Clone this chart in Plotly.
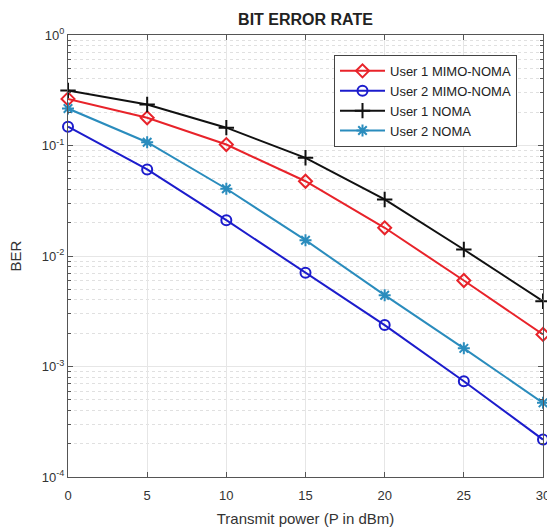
import plotly.graph_objects as go

power = [0, 5, 10, 15, 20, 25, 30]
user1_mimo = [0.264, 0.178, 0.102, 0.0475, 0.0180, 0.0060, 0.00195]
user2_mimo = [0.148, 0.0607, 0.0211, 0.00705, 0.00237, 0.000736, 0.000218]
user1_noma = [0.315, 0.235, 0.145, 0.0774, 0.0325, 0.01145, 0.0039]
user2_noma = [0.216, 0.107, 0.0406, 0.0139, 0.00442, 0.00146, 0.000469]

series = [
    ("User 1 MIMO-NOMA", user1_mimo, "#e8232a", "diamond-open", 10),
    ("User 2 MIMO-NOMA", user2_mimo, "#1c1ccc", "circle-open", 10),
    ("User 1 NOMA", user1_noma, "#111111", "cross-thin-open", 11),
    ("User 2 NOMA", user2_noma, "#2a8cbd", "asterisk-open", 10),
]

ytickvals = [1e-4, 1e-3, 1e-2, 1e-1, 1]
yticktext = ["10<sup>-4</sup>", "10<sup>-3</sup>", "10<sup>-2</sup>", "10<sup>-1</sup>", "10<sup>0</sup>"]
yminor = [m * 10.0 ** e for e in range(-4, 0) for m in range(2, 10)]

fig = go.Figure()
for name, vals, color, sym, size in series:
    fig.add_trace(go.Scatter(
        x=power, y=vals, name=name, mode="lines+markers",
        line=dict(color=color, width=2),
        marker=dict(symbol=sym, size=size, color=color, line=dict(color=color, width=2)),
        cliponaxis=False,
    ))

axis_color = "#555555"
fig.update_layout(
    width=547, height=529,
    margin=dict(l=68, r=4, t=35, b=52, autoexpand=False),
    paper_bgcolor="white", plot_bgcolor="white",
    font=dict(family="Liberation Sans, Arial, sans-serif", size=12, color="#333333"),
    title=dict(text="<b>BIT ERROR RATE</b>", x=(68 + 543) / 2 / 547, xanchor="center",
               y=1 - 19 / 529, yanchor="middle", yref="container",
               font=dict(size=16, color="#222222")),
    showlegend=True,
    legend=dict(x=0.56, y=0.955, xanchor="left", yanchor="top",
                bgcolor="white", bordercolor="#444444", borderwidth=1,
                font=dict(size=13, color="#222222"), itemwidth=45,
                tracegroupgap=0),
)
fig.update_xaxes(
    range=[0, 30], tickvals=power, ticks="inside", ticklen=5, tickcolor=axis_color,
    showline=True, linecolor=axis_color, linewidth=1, mirror="ticks",
    showgrid=True, gridcolor="#e6e6e6", gridwidth=1, zeroline=False,
    tickfont=dict(size=13, color="#333333"), ticklabeloverflow="allow",
    ticklabelstandoff=6, automargin=False,
    title=dict(text="Transmit power (P in dBm)", font=dict(size=15, color="#333333"), standoff=11),
)
fig.update_yaxes(
    type="log", range=[-4, 0], tickvals=ytickvals, ticktext=yticktext,
    ticks="inside", ticklen=5, tickcolor=axis_color,
    showline=True, linecolor=axis_color, linewidth=1, mirror="ticks",
    showgrid=True, gridcolor="#e6e6e6", gridwidth=1, zeroline=False,
    tickfont=dict(size=13, color="#333333"), automargin=False,
    minor=dict(tickvals=yminor, ticks="inside", ticklen=3, tickcolor=axis_color, showgrid=True,
               gridcolor="#e0e0e0", griddash="dot", gridwidth=1),
    title=dict(text="BER", font=dict(size=15, color="#333333"), standoff=16),
)
fig.write_html("out.html")
